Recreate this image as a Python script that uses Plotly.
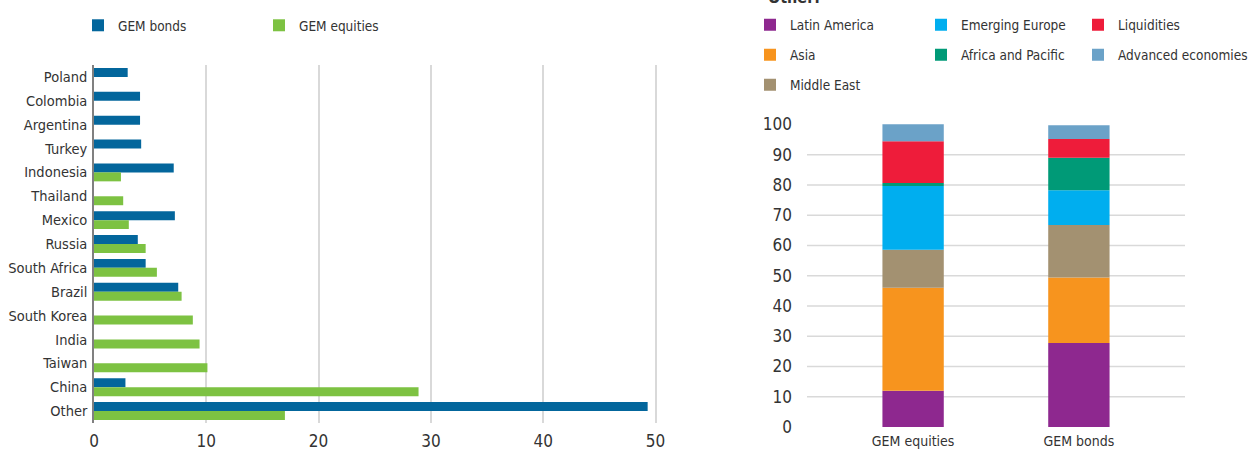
import plotly.graph_objects as go

# ---------------- data ----------------
countries = ["Poland", "Colombia", "Argentina", "Turkey", "Indonesia", "Thailand", "Mexico",
             "Russia", "South Africa", "Brazil", "South Korea", "India", "Taiwan", "China", "Other"]
gem_bonds = [3.0, 4.1, 4.1, 4.2, 7.1, None, 7.2, 3.9, 4.6, 7.5, None, None, None, 2.8, 49.3]
gem_equities = [None, None, None, None, 2.4, 2.6, 3.1, 4.6, 5.6, 7.8, 8.8, 9.4, 10.1, 28.9, 17.0]
x_ticks = [0, 10, 20, 30, 40, 50]

portfolios = ["GEM equities", "GEM bonds"]
latin_america = [12.0, 27.8]
asia = [34.0, 21.6]
middle_east = [12.6, 17.4]
emerging_europe = [21.1, 11.5]
africa_pacific = [1.0, 10.7]
liquidities = [13.8, 6.2]
advanced = [5.6, 4.6]
y2_ticks = [0, 10, 20, 30, 40, 50, 60, 70, 80, 90, 100]
grid2_vals = [10, 20, 30, 40, 50, 60, 70, 80, 90]

FONT = "DejaVu Sans Condensed, Liberation Sans Narrow, sans-serif"
TXT = "#333333"
GRID = "#d9d9d9"
W, H = 1250, 452

fig = go.Figure()

# ---------------- left chart ----------------
fig.add_trace(go.Bar(y=countries, x=gem_bonds, orientation="h", name="GEM bonds",
                     marker=dict(color="#03669C", line=dict(width=0)),
                     xaxis="x", yaxis="y", legend="legend"))
fig.add_trace(go.Bar(y=countries, x=gem_equities, orientation="h", name="GEM equities",
                     marker=dict(color="#7DC242", line=dict(width=0)),
                     xaxis="x", yaxis="y", legend="legend"))

# ---------------- right chart (stacked via base) ----------------
stack = [
    ("Latin America", latin_america, "#8E288F", "legend2"),
    ("Asia", asia, "#F7941E", "legend2"),
    ("Middle East", middle_east, "#A39171", "legend2"),
    ("Emerging Europe", emerging_europe, "#00AEEF", "legend3"),
    ("Africa and Pacific", africa_pacific, "#009A77", "legend3"),
    ("Liquidities", liquidities, "#EE1C3A", "legend4"),
    ("Advanced economies", advanced, "#6BA2C8", "legend4"),
]
cum = [0.0] * len(portfolios)
for name, vals, col, lg in stack:
    fig.add_trace(go.Bar(x=portfolios, y=vals, base=list(cum), name=name,
                         marker=dict(color=col, line=dict(width=0)),
                         offsetgroup="stack", width=0.37, offset=-0.185,
                         xaxis="x2", yaxis="y2", legend=lg, legendgroup=name))
    cum = [c + v for c, v in zip(cum, vals)]


def px_x(p):
    return p / W


def px_y(p):
    return 1 - p / H


LEG_FONT = 13.5
vgap = 30 - (LEG_FONT * 1.3 + 3)

fig.update_layout(
    width=W, height=H,
    margin=dict(l=0, r=0, t=0, b=0, autoexpand=False),
    paper_bgcolor="white", plot_bgcolor="white",
    font=dict(family=FONT, color=TXT, size=14),
    barmode="group",
    bargap=0.25, bargroupgap=0,
    showlegend=True,
    xaxis=dict(domain=[px_x(94), px_x(660)], range=[0, 50.4], tickvals=x_ticks,
               showgrid=True, gridcolor=GRID, gridwidth=1.5, zeroline=False,
               showline=False, ticks="", tickfont=dict(size=17), ticklabelstandoff=6,
               anchor="y", automargin=False),
    yaxis=dict(domain=[px_y(423), px_y(65)], autorange="reversed", type="category",
               showgrid=False, zeroline=False, showline=True, linecolor="#808080",
               linewidth=1.5, ticks="", tickfont=dict(size=14.5), ticklabelstandoff=2,
               anchor="x", automargin=False),
    xaxis2=dict(domain=[px_x(807), px_x(1185)], range=[-0.64, 1.64], type="category",
                showgrid=False, zeroline=False, showline=False, ticks="",
                tickfont=dict(size=14), ticklabelstandoff=4, anchor="y2", automargin=False),
    yaxis2=dict(domain=[px_y(427), px_y(121.5)], range=[0, 101], tickvals=y2_ticks,
                showgrid=False, zeroline=False, showline=False, ticks="",
                tickfont=dict(size=17), ticklabelstandoff=14, anchor="x2", automargin=False),
    legend=dict(orientation="h", x=px_x(78), y=px_y(10), xanchor="left", yanchor="top",
                font=dict(size=LEG_FONT), entrywidth=136, bgcolor="rgba(0,0,0,0)"),
    legend2=dict(orientation="v", x=px_x(750), y=px_y(9.5), xanchor="left", yanchor="top",
                 font=dict(size=LEG_FONT), tracegroupgap=vgap, bgcolor="rgba(0,0,0,0)"),
    legend3=dict(orientation="v", x=px_x(921), y=px_y(9.5), xanchor="left", yanchor="top",
                 font=dict(size=LEG_FONT), tracegroupgap=vgap, bgcolor="rgba(0,0,0,0)"),
    legend4=dict(orientation="v", x=px_x(1078), y=px_y(9.5), xanchor="left", yanchor="top",
                 font=dict(size=LEG_FONT), tracegroupgap=vgap, bgcolor="rgba(0,0,0,0)"),
)

# right panel: gridlines from 10 to 90 only
for v in grid2_vals:
    fig.add_shape(type="line", xref="x2 domain", yref="y2", x0=0, x1=1, y0=v, y1=v,
                  line=dict(color=GRID, width=1.5), layer="below")

fig.add_annotation(text="<b>Other:</b>", xref="paper", yref="paper",
                   x=px_x(766), y=px_y(-3), xanchor="left", yanchor="middle",
                   showarrow=False, font=dict(size=16, color=TXT))

fig.write_html("out.html", config={"displayModeBar": False},
               post_script="document.body.style.margin='0';document.body.style.overflow='hidden';")
